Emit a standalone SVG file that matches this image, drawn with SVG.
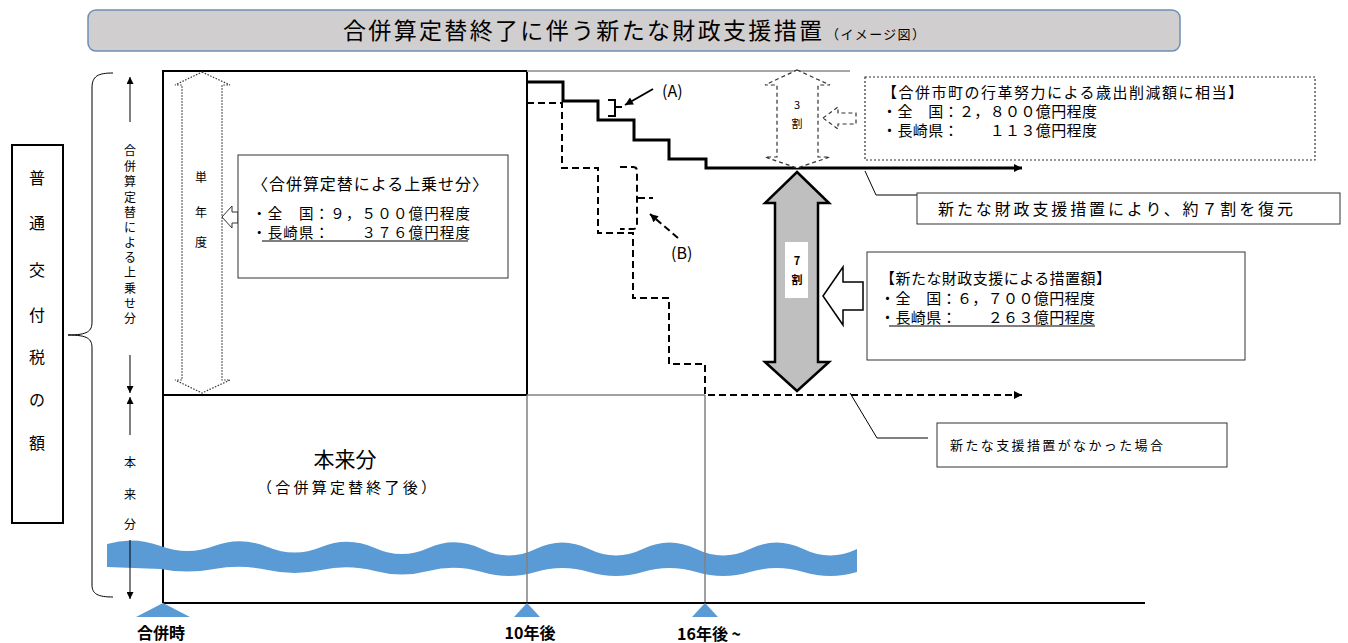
<svg xmlns="http://www.w3.org/2000/svg" width="1348" height="643" viewBox="0 0 1348 643">
<style>
.t{font-family:"Noto Sans CJK JP","Noto Sans",sans-serif;fill:#000}
.c{text-anchor:middle}
.thin{fill:#fff;stroke:#333;stroke-width:1}
.blk{fill:none;stroke:#000;stroke-width:2}
.gray{fill:none;stroke:#808080;stroke-width:1.5}
.dash{fill:none;stroke:#000;stroke-width:2;stroke-dasharray:7 4}
.ln{fill:none;stroke:#000;stroke-width:1}
.tri{fill:#5b9bd5}
</style>
<defs>
<marker id="ah" viewBox="0 0 10 10" refX="10" refY="5" markerWidth="10" markerHeight="8" markerUnits="userSpaceOnUse" orient="auto"><path d="M0,0 L10,5 L0,10 z" fill="#000"/></marker>
<marker id="as" viewBox="0 0 10 10" refX="10" refY="5" markerWidth="7" markerHeight="7" markerUnits="userSpaceOnUse" orient="auto"><path d="M0,0 L10,5 L0,10 z" fill="#000"/></marker>
</defs>

<g id="title">
<rect x="88" y="10" width="1092" height="41" rx="8" fill="#d0cece" stroke="#6d8fb3" stroke-width="1.5"/>
<text class="t" x="343" y="39" font-size="23" textLength="479" lengthAdjust="spacing">合併算定替終了に伴う新たな財政支援措置</text>
<text class="t" x="826" y="39" font-size="13" textLength="99" lengthAdjust="spacing">（イメージ図）</text>
</g>

<g id="total-label">
<rect x="12" y="145" width="51" height="378" fill="#fff" stroke="#000" stroke-width="2"/>
<text class="t c" font-size="16"><tspan x="37" y="184">普</tspan><tspan x="37" y="229">通</tspan><tspan x="37" y="276">交</tspan><tspan x="37" y="321">付</tspan><tspan x="37" y="363">税</tspan><tspan x="37" y="406">の</tspan><tspan x="37" y="449">額</tspan></text>
</g>

<g id="brace">
<path class="ln" stroke="#333" d="M113,73 C98,73 92,76 92,88 L92,322 C92,331 88,335 68,335 C88,335 92,339 92,348 L92,585 C92,594 98,597 113,597"/>
</g>

<g id="main-chart">
<rect x="163" y="71" width="364" height="324" fill="#fff" stroke="#000" stroke-width="2"/>
<line x1="163" y1="395" x2="163" y2="603" stroke="#000" stroke-width="2"/>
<line x1="527" y1="71" x2="850" y2="71" stroke="#a6a6a6" stroke-width="2"/>
<line x1="527" y1="395" x2="705" y2="395" class="gray"/>
</g>

<g id="wave">
<path class="tri" d="M107,544 Q133.8,536 160.6,546 T214.1,546 T267.7,547 T321.3,547 T374.9,548 T428.4,548 T482,549 T535.6,549 T589.1,549 T642.7,549 T696.3,549 T749.9,549 T803.4,549 T857,549 L857,572 Q830.2,580 803.4,572 T749.9,572 T696.3,572 T642.7,572 T589.1,572 T535.6,572 T482,572 T428.4,571 T374.9,571 T321.3,570 T267.7,570 T214.1,569 T160.6,569 L107,567 Z"/>
</g>

<g id="time-lines">
<line x1="527" y1="395" x2="527" y2="603" class="gray"/>
<line x1="705" y1="395" x2="705" y2="603" class="gray"/>
<line x1="163" y1="603" x2="1145" y2="603" stroke="#000" stroke-width="2"/>
</g>

<g id="side-axis">
<path class="ln" d="M130,122 V77" marker-end="url(#as)"/>
<text class="t c" font-size="12"><tspan x="130" y="155">合</tspan><tspan x="130" y="171">併</tspan><tspan x="130" y="186">算</tspan><tspan x="130" y="202">定</tspan><tspan x="130" y="217">替</tspan><tspan x="130" y="232">に</tspan><tspan x="130" y="247">よ</tspan><tspan x="130" y="262">る</tspan><tspan x="130" y="277">上</tspan><tspan x="130" y="293">乗</tspan><tspan x="130" y="308">せ</tspan><tspan x="130" y="323">分</tspan></text>
<path class="ln" d="M130,355 V393" marker-end="url(#as)"/>
<path class="ln" d="M130,435 V397" marker-end="url(#as)"/>
<text class="t c" font-size="12"><tspan x="130" y="467">本</tspan><tspan x="130" y="499">来</tspan><tspan x="130" y="529">分</tspan></text>
<path class="ln" d="M130,540 V599" marker-end="url(#as)"/>
</g>

<g id="single-year">
<polygon points="202,72 230,85 222,85 222,380 230,380 202,393 175,380 182,380 182,85 175,85" fill="#fff" stroke="#333" stroke-width="1.2" stroke-dasharray="1.5 1.5"/>
<text class="t c" font-size="12"><tspan x="201" y="182">単</tspan><tspan x="201" y="217">年</tspan><tspan x="201" y="247">度</tspan></text>
<polygon points="222,217 232,206 232,212 238,212 238,223 232,223 232,228" fill="#fff" stroke="#333" stroke-width="1"/>
</g>

<g id="box-uplift">
<rect x="238" y="155" width="270" height="123" class="thin"/>
<text class="t" x="252" y="190" font-size="16" textLength="236" lengthAdjust="spacing">〈合併算定替による上乗せ分〉</text>
<text class="t" x="252" y="219" font-size="14.5" textLength="218" lengthAdjust="spacing">・全　国：９，５００億円程度</text>
<text class="t" x="252" y="238" font-size="14.5" textLength="218" lengthAdjust="spacing">・長崎県：　　３７６億円程度</text>
<line x1="262" y1="241" x2="468" y2="241" stroke="#000" stroke-width="1.2"/>
</g>

<g id="base-label">
<text class="t c" x="345" y="467" font-size="21">本来分</text>
<text class="t" x="257" y="493" font-size="15" textLength="179" lengthAdjust="spacing">（合併算定替終了後）</text>
</g>

<g id="connectors">
<path d="M527,82 H563 V101 H598 V120 H634 V140 H669 V159 H706 V168 H1022" fill="none" stroke="#000" stroke-width="3" marker-end="url(#ah)"/>
<path class="dash" d="M527,103 H562 V168 H598 V233 H633 V298 H669 V364 H705 V395 H1022" marker-end="url(#ah)"/>
<path class="blk" d="M608,100 H615 V116 H608 M615,107 H622"/>
<path class="blk" d="M653,89 L625,105" marker-end="url(#ah)"/>
<path class="dash" stroke-dasharray="6 4" d="M620,167 H633 Q637,167 637,171 V225 Q637,229 633,229 H620 M638,198 H653"/>
<path class="dash" stroke-dasharray="6 4" d="M678,238 L650,214" marker-end="url(#ah)"/>
<path class="ln" d="M865,171 L876,195 L917,195"/>
<path class="ln" d="M850,393 L877,438 L928,438"/>
</g>

<g id="label-A"><text class="t" x="662" y="97" font-size="16">(A)</text></g>
<g id="label-B"><text class="t" x="671" y="259" font-size="16">(B)</text></g>

<g id="arrow-30">
<polygon points="797,70 830,85 818,85 818,157 830,157 797,168 765,157 777,157 777,85 765,85" fill="#fff" stroke="#333" stroke-width="1.2" stroke-dasharray="4 3"/>
<text class="t c" font-size="11" fill="#444"><tspan x="797" y="109">3</tspan><tspan x="797" y="128">割</tspan></text>
<polygon points="823,118 838,107 838,113 856,113 856,124 838,124 838,129" fill="#fff" stroke="#333" stroke-width="1.2" stroke-dasharray="4 3"/>
</g>

<g id="box-30">
<rect x="865" y="77" width="450" height="83" fill="#fff" stroke="#333" stroke-width="1.2" stroke-dasharray="2 2"/>
<text class="t" x="882" y="98" font-size="15" textLength="361" lengthAdjust="spacing">【合併市町の行革努力による歳出削減額に相当】</text>
<text class="t" x="882" y="117" font-size="15" textLength="215" lengthAdjust="spacing">・全　国：２，８００億円程度</text>
<text class="t" x="882" y="136" font-size="15" textLength="215" lengthAdjust="spacing">・長崎県：　　１１３億円程度</text>
</g>

<g id="box-restore">
<rect x="917" y="193" width="423" height="31" class="thin"/>
<text class="t" x="938" y="215" font-size="16" textLength="355" lengthAdjust="spacing">新たな財政支援措置により、約７割を復元</text>
</g>

<g id="arrow-70">
<polygon points="797,172 829,203 818,203 818,362 829,362 797,391 765,362 775,362 775,203 765,203" fill="#bfbfbf" stroke="#000" stroke-width="2.5" stroke-linejoin="miter"/>
<rect x="785" y="242" width="23" height="56" fill="#fff"/>
<text class="t c" font-size="11" font-weight="bold"><tspan x="797" y="265">7</tspan><tspan x="797" y="284">割</tspan></text>
<polygon points="823,296 843,267 843,282 863,282 863,310 843,310 843,325" fill="#fff" stroke="#000" stroke-width="1.5"/>
</g>

<g id="box-70">
<rect x="867" y="252" width="378" height="108" class="thin"/>
<text class="t" x="880" y="284" font-size="15" textLength="231" lengthAdjust="spacing">【新たな財政支援による措置額】</text>
<text class="t" x="880" y="304" font-size="15" textLength="215" lengthAdjust="spacing">・全　国：６，７００億円程度</text>
<text class="t" x="880" y="323" font-size="15" textLength="215" lengthAdjust="spacing">・長崎県：　　２６３億円程度</text>
<line x1="889" y1="326" x2="1095" y2="326" stroke="#000" stroke-width="1.2"/>
</g>

<g id="box-none">
<rect x="937" y="423" width="290" height="44" class="thin"/>
<text class="t" x="950" y="450" font-size="13" textLength="213" lengthAdjust="spacing">新たな支援措置がなかった場合</text>
</g>

<g id="timeline-marks">
<polygon class="tri" points="136,617 163,603 190,617"/>
<polygon class="tri" points="514,617 527,603 540,617"/>
<polygon class="tri" points="692,617 705,603 718,617"/>
<text class="t c" x="161" y="639" font-size="16" font-weight="bold">合併時</text>
<text class="t c" x="530" y="639" font-size="16" font-weight="bold">10年後</text>
<text class="t" x="677" y="640" font-size="16" font-weight="bold">16年後 ~</text>
</g>
</svg>
